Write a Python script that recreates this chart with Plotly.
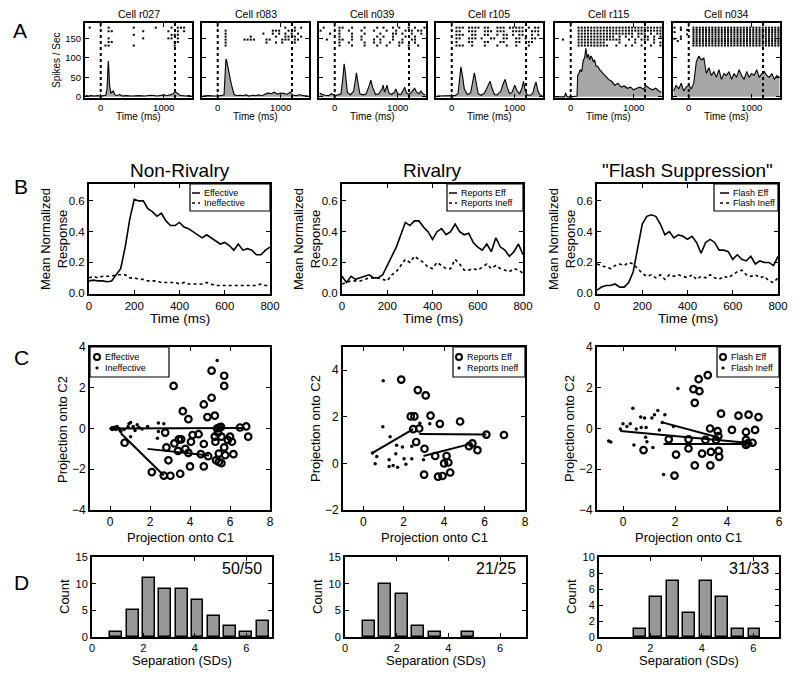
import plotly.graph_objects as go

# page body has an 8 px margin, so the figure is drawn 8 px in from the top-left corner
OFF = 8
W, H = 800 - OFF, 679 - OFF
FONT = "Liberation Sans, Arial, Helvetica, sans-serif"

# ---------------- data ----------------
# Row A: example cells (PSTH in spikes/sec, rasters as 50 ms bins from -250 ms)
cell_names = ["Cell r027", "Cell r083", "Cell n039", "Cell r105", "Cell r115", "Cell n034"]
stim_on = 0
stim_off = 1180

r027_t = [-240, -200, -150, -100, -50, 0, 50, 80, 100, 110, 120, 130, 140, 160, 180, 200, 220, 250, 300,
          350, 400, 500, 600, 700, 800, 900, 1000, 1050, 1100, 1150, 1180, 1200, 1230, 1260, 1300, 1350,
          1400, 1440]
r027_v = [4, 2, 3, 2, 3, 2, 3, 4, 20, 60, 92, 70, 30, 10, 12, 15, 6, 3, 6, 2, 3, 2, 3, 2, 4, 2, 5, 3, 5, 8,
          14, 12, 8, 4, 3, 2, 3, 2]
r083_t = [-240, -150, -50, 0, 50, 100, 110, 120, 130, 140, 150, 160, 180, 200, 220, 240, 260, 300, 350, 400,
          450, 500, 550, 600, 650, 700, 750, 800, 850, 900, 950, 1000, 1050, 1100, 1150, 1200, 1250, 1300,
          1350, 1400, 1440]
r083_v = [2, 3, 2, 2, 3, 5, 40, 80, 97, 95, 85, 75, 60, 45, 30, 15, 6, 3, 4, 3, 5, 2, 4, 3, 5, 3, 6, 10, 8,
          12, 7, 10, 9, 6, 12, 4, 3, 6, 3, 2, 2]
n039_t = [-240, -200, -150, -100, -50, 0, 50, 100, 130, 150, 170, 200, 250, 300, 330, 345, 370, 400, 450,
          500, 550, 575, 600, 650, 700, 750, 770, 790, 810, 830, 860, 900, 950, 970, 1000, 1050, 1100, 1110,
          1140, 1180, 1220, 1270, 1300, 1340, 1370, 1400, 1440]
n039_v = [10, 6, 4, 3, 8, 3, 5, 8, 50, 85, 60, 12, 5, 15, 45, 62, 35, 8, 5, 8, 30, 43, 25, 6, 8, 20, 30, 12,
          20, 30, 10, 6, 12, 20, 8, 6, 20, 25, 10, 6, 12, 22, 12, 8, 15, 8, 5]
r105_t = [-240, -150, -50, 0, 50, 100, 130, 145, 170, 200, 250, 300, 340, 360, 390, 420, 470, 520, 580, 610,
          640, 680, 720, 780, 820, 850, 880, 920, 960, 1000, 1040, 1080, 1120, 1140, 1170, 1200, 1250, 1290,
          1320, 1340, 1370, 1400, 1440]
r105_v = [2, 2, 3, 2, 3, 8, 55, 77, 55, 20, 6, 10, 45, 62, 35, 8, 4, 10, 30, 40, 22, 6, 5, 15, 35, 45, 25, 8,
          12, 30, 15, 8, 25, 40, 15, 5, 4, 10, 30, 38, 15, 5, 3]
r115_t = [-240, -200, -150, -100, -80, -60, 0, 50, 100, 110, 130, 150, 175, 200, 220, 240, 260, 280, 300,
          320, 340, 360, 380, 400, 430, 460, 500, 550, 600, 650, 700, 750, 800, 850, 900, 950, 1000, 1050,
          1100, 1150, 1200, 1250, 1300, 1350, 1400, 1440]
r115_v = [0, 0, 0, 0, 10, 0, 0, 1, 2, 55, 60, 70, 65, 95, 100, 125, 100, 110, 95, 105, 100, 90, 95, 80, 78,
          70, 62, 55, 45, 40, 30, 35, 25, 28, 22, 25, 18, 22, 25, 20, 28, 22, 18, 22, 15, 12]
n034_t = [-240, -200, -160, -120, -80, -40, 0, 40, 80, 120, 160, 200, 240, 280, 320, 360, 400, 440, 480, 520,
          560, 600, 640, 680, 720, 760, 800, 840, 880, 920, 960, 1000, 1040, 1080, 1120, 1160, 1200, 1240,
          1280, 1320, 1360, 1400, 1440]
n034_v = [15, 30, 20, 35, 15, 25, 30, 20, 35, 90, 105, 95, 100, 60, 75, 55, 65, 50, 70, 45, 60, 55, 65, 45,
          60, 50, 70, 55, 45, 65, 50, 60, 55, 70, 50, 60, 65, 55, 50, 60, 45, 55, 50]

r027_raster = [
    ".|.....|.......|......|....|.|||..",
    ".......||.........|.......|..|.|..",
    "...............|...........|||....",
    ".......|..........|.......||.|....",
    ".......||...................||....",
    "......||.......|............|.....",
]
r083_raster = [
    "..........................|..|.|..",
    ".......|..............|||..|.|....",
    ".......|...........|..|.|.|.|.|...",
    ".......|.......|.......|..||.|.|..",
    ".......|.....||||...||...|||.||...",
    ".......|............|..|.|...|....",
    ".......|..........................",
]
n039_raster = [
    ".|....||..|...|...|.|..|.|..|.|..|",
    "|.....|..|...|...|...|..|..|.|.||.",
    "...|..|...|...|....|...||.|..|..|.",
    "......|...|..|....|.|..|...|..|...",
    "..|...||..|..|...|.|...|..|..||...",
    "......|..|....|..|.|..|..||...|...",
    "......|...|...|...|..|...|..|..|..",
]
r105_raster = [
    "......|||.||||.||..|||.|||||.|.||.",
    "......||..|||..|||.|||..||||..|||.",
    "......|||..||..||..|.||.|.||..|.|.",
    "......||..|||.|..||..||..||.|.||..",
    "......|...||...||...||...||..||...",
    "......|||..|...|...|..|..|...|....",
]
r115_raster = [
    ".......|||||||||||||||||||||||||||",
    ".......|||||||||||||||||||||||||||",
    ".......||||||||||||||||||.|||.|.||",
    ".......||||||||||||.|.|.|.|.||.|.|",
    "..|....||||||||||||||..|.|.|||.|..",
    ".......|||||||||....|....|.....|.|",
    ".......||||||||||..|..|.|..|..|..|",
]
n034_raster = [
    "|.|...||||||||||||||||||||||||||||",
    "..|.|.||||||||||||||||||||||||||||",
    "|.....||||||||||||||||||||||||||||",
    "....|.||||||||||||||||||||||||||||",
    "..|...||||||||||||||||||||||||||||",
    "|.|...||||||||||||||||||||||||||||",
    ".|....||||||||||||||||||||||||||||",
    "......||||||||||||||||||||||||||||",
    "......||||||||||||||||||||||||||||",
]
psth_t = [r027_t, r083_t, n039_t, r105_t, r115_t, n034_t]
psth_v = [r027_v, r083_v, n039_v, r105_v, r115_v, n034_v]
rasters = [r027_raster, r083_raster, n039_raster, r105_raster, r115_raster, n034_raster]

# Row B: population responses
b_titles = ["Non-Rivalry", "Rivalry", "\"Flash Suppression\""]
b_time = [0, 20, 40, 60, 80, 100, 120, 140, 160, 180, 200, 220, 240, 260, 280, 300, 320, 340, 360, 380, 400,
          420, 440, 460, 480, 500, 520, 540, 560, 580, 600, 620, 640, 660, 680, 700, 720, 740, 760, 780, 800]
nr_eff = [0.08, 0.085, 0.08, 0.08, 0.075, 0.08, 0.12, 0.16, 0.30, 0.48, 0.61, 0.60, 0.60, 0.55, 0.53, 0.50,
          0.52, 0.47, 0.44, 0.44, 0.46, 0.43, 0.42, 0.40, 0.38, 0.36, 0.38, 0.36, 0.34, 0.32, 0.33, 0.31,
          0.28, 0.32, 0.28, 0.29, 0.28, 0.25, 0.25, 0.28, 0.30]
nr_ineff = [0.10, 0.11, 0.10, 0.11, 0.11, 0.11, 0.12, 0.12, 0.12, 0.10, 0.10, 0.09, 0.09, 0.08, 0.08, 0.08,
            0.07, 0.07, 0.07, 0.07, 0.06, 0.07, 0.06, 0.06, 0.06, 0.06, 0.07, 0.06, 0.05, 0.05, 0.05, 0.05,
            0.05, 0.05, 0.05, 0.05, 0.05, 0.05, 0.06, 0.05, 0.05]
riv_eff = [0.11, 0.07, 0.11, 0.09, 0.10, 0.11, 0.12, 0.10, 0.10, 0.12, 0.18, 0.25, 0.30, 0.38, 0.46, 0.44,
           0.47, 0.47, 0.43, 0.40, 0.35, 0.40, 0.42, 0.38, 0.40, 0.45, 0.40, 0.38, 0.39, 0.33, 0.30, 0.28,
           0.32, 0.27, 0.36, 0.30, 0.28, 0.24, 0.27, 0.32, 0.25]
riv_ineff = [0.06, 0.07, 0.08, 0.08, 0.08, 0.09, 0.10, 0.10, 0.10, 0.09, 0.08, 0.12, 0.14, 0.18, 0.22, 0.20,
             0.24, 0.22, 0.20, 0.17, 0.16, 0.20, 0.18, 0.16, 0.16, 0.22, 0.19, 0.15, 0.15, 0.16, 0.15, 0.17,
             0.19, 0.16, 0.18, 0.16, 0.15, 0.14, 0.16, 0.15, 0.13]
fl_eff = [0.02, 0.04, 0.05, 0.05, 0.06, 0.04, 0.04, 0.07, 0.14, 0.30, 0.45, 0.50, 0.51, 0.50, 0.45, 0.38,
          0.40, 0.36, 0.38, 0.37, 0.35, 0.37, 0.33, 0.26, 0.33, 0.35, 0.33, 0.28, 0.28, 0.27, 0.22, 0.25,
          0.22, 0.21, 0.24, 0.19, 0.21, 0.20, 0.20, 0.18, 0.24]
fl_ineff = [0.19, 0.18, 0.17, 0.16, 0.18, 0.19, 0.18, 0.20, 0.19, 0.16, 0.13, 0.11, 0.12, 0.10, 0.12, 0.09,
            0.12, 0.11, 0.12, 0.11, 0.10, 0.12, 0.09, 0.11, 0.10, 0.12, 0.10, 0.09, 0.11, 0.10, 0.12, 0.14,
            0.15, 0.12, 0.11, 0.12, 0.10, 0.11, 0.08, 0.07, 0.10]
b_eff = [nr_eff, riv_eff, fl_eff]
b_ineff = [nr_ineff, riv_ineff, fl_ineff]
b_legend = [("Effective", "Ineffective"), ("Reports Eff", "Reports Ineff"), ("Flash Eff", "Flash Ineff")]

# Row C: projections
c1_eff_x = [3.18, 5.08, 5.71, 5.71, 5.08, 4.69, 3.64, 3.92, 4.87, 5.24, 5.45, 5.35, 5.55, 6.5, 6.81, 6.91,
            2.76, 0.73, 2.82, 3.22, 3.44, 3.56, 3.4, 3.77, 3.92, 4.05, 4.13, 4.43, 4.69, 4.54, 4.91, 5.24,
            5.27, 5.4, 5.57, 5.71, 5.89, 6.0, 6.1, 5.76, 6.17, 5.44, 5.3, 5.57, 5.44, 2.92, 4.0, 4.69, 2.09,
            2.69, 3.02, 3.51]
c1_eff_y = [2.09, 2.84, 2.59, 2.09, 1.51, 1.18, 0.85, 0.46, 0.56, 0.63, 0.05, 0.0, 0.08, 0.05, 0.1, -0.4,
            -0.2, -0.7, -0.93, -0.73, -0.53, -0.53, -1.1, -1.0, -1.2, -0.65, -0.32, -0.28, -0.76, -1.26,
            -1.36, -0.4, -0.65, -0.2, -0.4, -0.93, -0.56, -0.4, -0.65, -1.31, -1.26, -1.23, -1.56, -1.7,
            -1.64, -1.56, -1.86, -1.86, -2.14, -2.31, -2.32, -2.22]
c1_ineff_x = [0.05, 0.12, 0.18, 0.25, 0.3, 0.38, 0.45, 0.2, 0.1, 0.35, 0.5, 0.54, 0.95, 1.03, 0.9, 1.16,
              1.36, 1.45, 1.6, 1.88, 2.42, 2.69, 2.42, 2.37, 1.03, 0.7, 1.25, 5.36]
c1_ineff_y = [0.0, 0.05, -0.03, 0.06, -0.05, 0.04, 0.0, 0.02, -0.05, 0.1, -0.1, -0.15, 0.23, 0.3, 0.08, 0.1,
              0.18, 0.05, -0.03, 0.1, 0.27, 0.23, -0.15, -0.48, -0.4, -0.05, -0.1, 3.34]
c1_seg_x = [0.0, 6.74, None, 0.54, 2.69, None, 1.88, 4.95]
c1_seg_y = [0.0, 0.03, None, -0.23, -2.31, None, -1.0, -1.33]

c2_eff_x = [1.88, 2.7, 3.09, 2.35, 2.53, 3.33, 3.79, 4.79, 2.47, 2.77, 2.62, 3.03, 3.56, 4.12, 4.0, 4.21,
            5.4, 5.23, 5.65, 6.09, 6.96, 3.01, 3.7, 3.92, 4.3]
c2_eff_y = [3.6, 3.15, 2.92, 2.02, 2.02, 2.05, 1.7, 1.8, 1.47, 1.5, 0.92, 0.63, 0.32, 0.32, 0.0, 0.04, 0.86,
            0.74, 0.57, 1.24, 1.22, -0.48, -0.57, -0.54, -0.39]
c2_ineff_x = [0.99, 0.97, 1.33, 0.46, 0.67, 0.59, 1.65, 1.94, 1.61, 1.28, 2.02, 2.4, 1.28, 1.48, 1.7, 2.11,
              2.4, 2.8, 3.29, 2.98]
c2_ineff_y = [3.55, 1.57, 1.15, 0.45, 0.3, -0.01, 0.78, 0.71, 0.42, 0.16, 0.2, 0.2, -0.13, -0.09, -0.16,
              -0.04, 0.74, 1.73, 1.7, 0.16]
c2_seg_x = [0.46, 2.47, None, 2.77, 6.09, None, 2.98, 5.4]
c2_seg_y = [0.45, 1.47, None, 1.26, 1.24, None, 0.32, 0.86]

c3_eff_x = [3.26, 2.91, 2.71, 2.94, 2.76, 3.77, 4.44, 4.83, 5.21, 3.35, 3.64, 4.19, 3.67, 4.73, 5.08, 1.76,
            2.52, 3.17, 3.58, 4.73, 4.79, 4.98, 4.73, 2.52, 0.79, 2.04, 3.04, 3.38, 3.68, 3.7, 2.76, 3.36,
            1.98]
c3_eff_y = [2.62, 2.42, 1.93, 1.83, 1.26, 0.73, 0.63, 0.68, 0.56, 0.0, -0.13, -0.07, -0.37, -0.17, -0.07,
            -0.53, -0.53, -0.56, -0.56, -0.56, -0.73, -0.7, -0.81, -0.98, -1.06, -1.28, -1.23, -1.15, -1.1,
            -1.39, -1.81, -1.81, -2.31]
c3_ineff_x = [-0.55, -0.47, -0.1, 0.0, 0.15, 0.28, 0.38, 0.42, 0.51, 0.68, 0.83, 0.7, 0.89, 0.87, 0.92,
              1.11, 1.21, 1.34, 1.15, 1.4, 1.61, 1.51, 2.11, 1.94, 1.56, 1.85]
c3_ineff_y = [-0.61, -0.66, -0.03, 0.23, 0.1, 0.23, 1.0, -0.81, -0.03, 0.56, 0.51, 0.05, 0.05, -0.43, -0.65,
              0.51, 0.68, 0.88, -0.93, -0.07, 0.68, 0.3, 1.96, 0.1, -2.26, -0.4]
c3_seg_x = [-0.1, 4.98, None, 1.51, 3.64, None, 1.56, 4.98]
c3_seg_y = [-0.12, -0.73, None, 0.3, -0.43, None, -0.76, -0.76]

c_eff = [(c1_eff_x, c1_eff_y), (c2_eff_x, c2_eff_y), (c3_eff_x, c3_eff_y)]
c_ineff = [(c1_ineff_x, c1_ineff_y), (c2_ineff_x, c2_ineff_y), (c3_ineff_x, c3_ineff_y)]
c_seg = [(c1_seg_x, c1_seg_y), (c2_seg_x, c2_seg_y), (c3_seg_x, c3_seg_y)]

# Row D: separation histograms
d1_x = [0.93, 1.59, 2.23, 2.84, 3.5, 4.1, 4.74, 5.38, 6.0, 6.66]
d1_n = [1, 5, 11, 9, 9, 7, 4, 2, 1, 3]
d2_x = [0.93, 1.55, 2.2, 2.83, 3.49, 4.77]
d2_n = [3, 10, 8, 2, 1, 1]
d3_x = [1.59, 2.21, 2.87, 3.49, 4.15, 4.77, 5.39, 6.05]
d3_n = [1, 5, 7, 3, 7, 5, 1, 1]
d_hist = [(d1_x, d1_n), (d2_x, d2_n), (d3_x, d3_n)]
d_counts = ["50/50", "21/25", "31/33"]


# ---------------- helpers ----------------
def px(x):
    return (x - OFF) / W


def py(y):
    return 1 - (y - OFF) / H


def ids(n):
    s = "" if n == 1 else str(n)
    return "xaxis" + s, "yaxis" + s, "x" + s, "y" + s


def frame(fs):
    return dict(showline=True, linecolor="black", linewidth=2, mirror="ticks", ticks="inside",
                ticklen=4, tickwidth=1.2, tickcolor="black", showgrid=False, zeroline=False,
                automargin=False, tickfont=dict(size=fs, color="black", family=FONT))


def label(x, y, s, size, angle=0, xanchor="center"):
    return dict(x=px(x), y=py(y), xref="paper", yref="paper", text=s, showarrow=False,
                font=dict(size=size, color="black", family=FONT), textangle=angle,
                xanchor=xanchor, yanchor="middle")


fig = go.Figure()
layout = {}
annotations = []
shapes = []

# ---------------- Row A ----------------
a_cols = [(85, 192), (202, 309), (319, 426), (436, 543), (555, 662), (673, 780)]
for i in range(6):
    n = i + 1
    xa, ya, xr, yr = ids(n)
    l, r = a_cols[i]
    layout[xa] = dict(domain=[px(l), px(r)], anchor=yr, range=[-250, 1450], tickvals=[0, 1000], **frame(9.5))
    layout[ya] = dict(domain=[py(98), py(23)], anchor=xr, range=[-3, 190], tickvals=[0, 50, 100, 150],
                      showticklabels=(i == 0), **frame(9.5))
    fig.add_trace(go.Scatter(x=psth_t[i], y=psth_v[i], mode="lines", xaxis=xr, yaxis=yr,
                             line=dict(color="black", width=1.1), fill="tozeroy", fillcolor="#a6a6a6",
                             showlegend=False))
    rows = rasters[i]
    step = 46 / (len(rows) - 1)
    rx, ry = [], []
    for k, row in enumerate(rows):
        for j, ch in enumerate(row):
            if ch == "|":
                rx.append(-250 + 50 * j + 25)
                ry.append(178 - k * step)
    fig.add_trace(go.Scatter(x=rx, y=ry, mode="markers", xaxis=xr, yaxis=yr,
                             marker=dict(symbol="square", size=2, color="black", line=dict(width=0)),
                             showlegend=False))
    for t in (stim_on, stim_off):
        shapes.append(dict(type="line", xref=xr, yref=yr + " domain", x0=t, x1=t, y0=0, y1=1,
                           line=dict(color="black", width=2, dash="dot")))
    annotations.append(label((l + r) / 2, 14, cell_names[i], 10.5))
    annotations.append(label((l + r) / 2, 116, "Time (ms)", 10))
annotations.append(label(57, 60, "Spikes / Sec", 10, angle=-90))

# ---------------- Row B ----------------
b_cols = [(89, 270), (342, 523), (597, 778)]
b_leg = [(190, 192, 200), (447, 449, 457), (714, 720, 729)]
for i in range(3):
    n = 7 + i
    xa, ya, xr, yr = ids(n)
    l, r = b_cols[i]
    layout[xa] = dict(domain=[px(l), px(r)], anchor=yr, range=[0, 800], tickvals=[0, 200, 400, 600, 800],
                      **frame(11.5))
    layout[ya] = dict(domain=[py(294), py(184)], anchor=xr, range=[-0.005, 0.71],
                      tickvals=[0, 0.2, 0.4, 0.6], tickformat=".1f", **frame(11.5))
    fig.add_trace(go.Scatter(x=b_time, y=b_eff[i], mode="lines", xaxis=xr, yaxis=yr,
                             line=dict(color="black", width=1.6), showlegend=False))
    fig.add_trace(go.Scatter(x=b_time, y=b_ineff[i], mode="lines", xaxis=xr, yaxis=yr,
                             line=dict(color="black", width=1.6, dash="dot"), showlegend=False))
    annotations.append(label((l + r) / 2, 170, b_titles[i], 19))
    annotations.append(label((l + r) / 2, 318, "Time (ms)", 13.5))
    annotations.append(label(l - 35, 239, "Mean Normalized<br>Response", 13, angle=-90))
    bl, s0, s1 = b_leg[i]
    shapes.append(dict(type="rect", xref="paper", yref="paper", x0=px(bl), x1=px(r), y0=py(211), y1=py(184),
                       line=dict(color="black", width=1.2), fillcolor="white"))
    shapes.append(dict(type="line", xref="paper", yref="paper", x0=px(s0), x1=px(s1), y0=py(193), y1=py(193),
                       line=dict(color="black", width=1.5)))
    shapes.append(dict(type="line", xref="paper", yref="paper", x0=px(s0), x1=px(s1), y0=py(203), y1=py(203),
                       line=dict(color="black", width=1.5, dash="dot")))
    annotations.append(label(s1 + 2, 193, b_legend[i][0], 9, xanchor="left"))
    annotations.append(label(s1 + 2, 203, b_legend[i][1], 9, xanchor="left"))

# ---------------- Row C ----------------
c_cols = [(90, 270), (343, 525), (597, 779)]
c_xr = [[-1, 8], [-1, 8], [-1, 6]]
c_yr = [[-4, 4], [-2, 5], [-4, 4]]
c_xt = [[0, 2, 4, 6, 8], [0, 2, 4, 6, 8], [0, 2, 4, 6]]
c_yt = [[-4, -2, 0, 2, 4], [-2, 0, 2, 4], [-4, -2, 0, 2, 4]]
c_leg_box = [(90, 169), (453, 525), (717, 779)]
c_leg_sym = [97, 459, 723]
c_leg_txt = [("Effective", "Ineffective"), ("Reports Eff", "Reports Ineff"), ("Flash Eff", "Flash Ineff")]
for i in range(3):
    n = 10 + i
    xa, ya, xr, yr = ids(n)
    l, r = c_cols[i]
    layout[xa] = dict(domain=[px(l), px(r)], anchor=yr, range=c_xr[i], tickvals=c_xt[i], **frame(12))
    layout[ya] = dict(domain=[py(510), py(347)], anchor=xr, range=c_yr[i], tickvals=c_yt[i], **frame(12))
    fig.add_trace(go.Scatter(x=c_seg[i][0], y=c_seg[i][1], mode="lines", xaxis=xr, yaxis=yr,
                             line=dict(color="black", width=2), connectgaps=False, showlegend=False))
    fig.add_trace(go.Scatter(x=c_ineff[i][0], y=c_ineff[i][1], mode="markers", xaxis=xr, yaxis=yr,
                             marker=dict(symbol="circle", size=3.5, color="black"), showlegend=False))
    fig.add_trace(go.Scatter(x=c_eff[i][0], y=c_eff[i][1], mode="markers", xaxis=xr, yaxis=yr,
                             marker=dict(symbol="circle-open", size=6.5, color="black", line=dict(width=2.2)),
                             showlegend=False))
    annotations.append(label((l + r) / 2, 537, "Projection onto C1", 13))
    annotations.append(label(l - 28, 429, "Projection onto C2", 13, angle=-90))
    bl, br = c_leg_box[i]
    sx = c_leg_sym[i]
    shapes.append(dict(type="rect", xref="paper", yref="paper", x0=px(bl), x1=px(br), y0=py(377), y1=py(347),
                       line=dict(color="black", width=1.2), fillcolor="white"))
    shapes.append(dict(type="circle", xref="paper", yref="paper", xsizemode="pixel", ysizemode="pixel",
                       xanchor=px(sx), yanchor=py(357), x0=-3, x1=3, y0=-3, y1=3,
                       line=dict(color="black", width=2)))
    shapes.append(dict(type="circle", xref="paper", yref="paper", xsizemode="pixel", ysizemode="pixel",
                       xanchor=px(sx), yanchor=py(368), x0=-1.3, x1=1.3, y0=-1.3, y1=1.3,
                       line=dict(color="black", width=0.5), fillcolor="black"))
    annotations.append(label(sx + 6, 357, c_leg_txt[i][0], 9, xanchor="left"))
    annotations.append(label(sx + 6, 368, c_leg_txt[i][1], 9, xanchor="left"))

# ---------------- Row D ----------------
d_cols = [(92, 272), (345, 526), (599, 779)]
d_yr = [[0, 15], [0, 15], [0, 10]]
d_yt = [[0, 5, 10, 15], [0, 5, 10, 15], [0, 2, 4, 6, 8, 10]]
for i in range(3):
    n = 13 + i
    xa, ya, xr, yr = ids(n)
    l, r = d_cols[i]
    layout[xa] = dict(domain=[px(l), px(r)], anchor=yr, range=[0, 7], tickvals=[0, 2, 4, 6], **frame(11))
    layout[ya] = dict(domain=[py(637), py(557)], anchor=xr, range=d_yr[i], tickvals=d_yt[i], **frame(11))
    fig.add_trace(go.Bar(x=d_hist[i][0], y=d_hist[i][1], xaxis=xr, yaxis=yr, width=0.46,
                         marker=dict(color="#989898", line=dict(color="black", width=1.5)),
                         showlegend=False))
    annotations.append(label(r - 8, 568, d_counts[i], 16, xanchor="right"))
    annotations.append(label((l + r) / 2, 660, "Separation (SDs)", 13))
    annotations.append(label(l - 28, 597, "Count", 13, angle=-90))

# panel letters
for letter, (x, y) in zip("ABCD", [(20, 30), (21, 186), (21, 357), (21, 582)]):
    annotations.append(label(x, y, letter, 21))

# scan border on the right edge
shapes.append(dict(type="line", xref="paper", yref="paper", x0=px(797.5), x1=px(797.5), y0=py(8), y1=py(562),
                   line=dict(color="black", width=2)))

fig.update_layout(
    **layout,
    width=W,
    height=H,
    margin=dict(l=0, r=0, t=0, b=0),
    paper_bgcolor="white",
    plot_bgcolor="white",
    showlegend=False,
    font=dict(family=FONT, color="black"),
    annotations=annotations,
    shapes=shapes,
    bargap=0,
)

fig.write_html("out.html")
